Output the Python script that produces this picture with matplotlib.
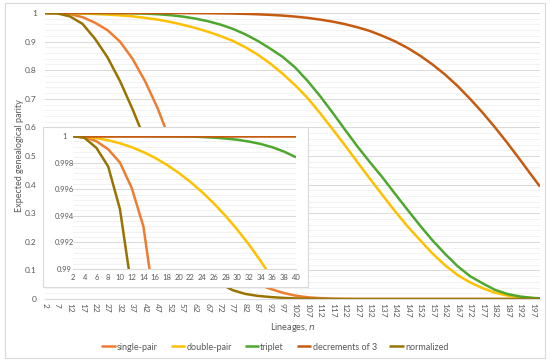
import numpy             as np
import matplotlib
matplotlib.use('Agg')
import matplotlib.pyplot as plt
from matplotlib.patches import Rectangle

plt.rcParams['font.family'] = ['Lato', 'DejaVu Sans']

# Lineages on the main chart (sampled every 5) and on the zoomed inset
n_main  = [2, 7, 12, 17, 22, 27, 32, 37, 42, 47, 52, 57, 62, 67, 72, 77, 82, 87, 92, 97,
           102, 107, 112, 117, 122, 127, 132, 137, 142, 147, 152, 157, 162, 167, 172, 177,
           182, 187, 192, 197, 200]
n_inset = [2, 4, 6, 8, 10, 12, 14, 16, 18, 20, 22, 24, 26, 28, 30, 32, 34, 36, 38, 40]

series_names = ['single-pair', 'double-pair', 'triplet', 'decrements of 3', 'normalized']

single_pair = [1.0, 0.9994, 0.996, 0.9855, 0.966, 0.94, 0.90, 0.84, 0.762, 0.668, 0.555,
               0.44, 0.335, 0.24, 0.165, 0.11, 0.075, 0.052, 0.036, 0.022, 0.012, 0.006,
               0.003, 0.0012, 0.0004, 0, 0, 0, 0, 0, 0, 0, 0, 0, 0, 0, 0, 0, 0, 0, 0]
double_pair = [1.0, 0.9998, 0.9992, 0.9981, 0.9966, 0.9945, 0.9918, 0.9885, 0.983, 0.977,
               0.969, 0.959, 0.948, 0.935, 0.920, 0.903, 0.881, 0.855, 0.824, 0.788, 0.748,
               0.703, 0.650, 0.594, 0.537, 0.478, 0.420, 0.363, 0.307, 0.254, 0.206, 0.159,
               0.118, 0.084, 0.058, 0.038, 0.022, 0.012, 0.006, 0.003, 0.002]
triplet     = [1.0, 1.0, 1.0, 1.0, 1.0, 1.0, 0.9996, 0.999, 0.9979, 0.9958, 0.9925, 0.9876,
               0.9807, 0.9716, 0.960, 0.945, 0.926, 0.903, 0.876, 0.847, 0.810, 0.763, 0.710,
               0.652, 0.592, 0.533, 0.478, 0.425, 0.368, 0.312, 0.257, 0.205, 0.158, 0.115,
               0.080, 0.055, 0.032, 0.0174, 0.0087, 0.0039, 0.0023]
decrements  = [1.0, 1.0, 1.0, 1.0, 1.0, 1.0, 1.0, 1.0, 1.0, 0.9999, 0.9998, 0.9997, 0.9995,
               0.9992, 0.9987, 0.998, 0.997, 0.9955, 0.9935, 0.991, 0.9875, 0.983, 0.977,
               0.970, 0.961, 0.950, 0.937, 0.920, 0.901, 0.878, 0.851, 0.820, 0.785, 0.745,
               0.700, 0.652, 0.600, 0.545, 0.487, 0.428, 0.393]
normalized  = [1.0, 0.9985, 0.988, 0.962, 0.91, 0.845, 0.762, 0.664, 0.557, 0.45, 0.35,
               0.25, 0.16, 0.095, 0.055, 0.031, 0.018, 0.011, 0.007, 0.004, 0.002, 0.001,
               0.0003, 0, 0, 0, 0, 0, 0, 0, 0, 0, 0, 0, 0, 0, 0, 0, 0, 0, 0]

# Zoomed values for n = 2..40
single_pair_inset = [1.0, 0.99993, 0.9996, 0.999, 0.998, 0.9961, 0.9932, 0.987, 0.981, 0.974,
                     0.965, 0.955, 0.944, 0.931, 0.918, 0.905, 0.89, 0.868, 0.84, 0.80]
double_pair_inset = [1.0, 0.99995, 0.99984, 0.99968, 0.99945, 0.99916, 0.99879, 0.99835,
                     0.99783, 0.99723, 0.99655, 0.99578, 0.99493, 0.99399, 0.99295, 0.99183,
                     0.99058, 0.98926, 0.98785, 0.9863]
triplet_inset     = [1.0, 1.0, 1.0, 1.0, 1.0, 1.0, 1.0, 0.99999, 0.99998, 0.999975, 0.99996,
                     0.999925, 0.99988, 0.99981, 0.99972, 0.99958, 0.9994, 0.99915, 0.99882,
                     0.9984]
decrements_inset  = [1.0] * 20
normalized_inset  = [1.0, 0.99985, 0.9991, 0.9977, 0.9945, 0.9885, 0.979, 0.968, 0.955, 0.94,
                     0.922, 0.90, 0.876, 0.85, 0.82, 0.79, 0.755, 0.72, 0.68, 0.64]

main_yticks   = [0, 0.1, 0.2, 0.3, 0.4, 0.5, 0.6, 0.7, 0.8, 0.9, 1]
main_ylabels  = ['0', '0.1', '0.2', '0.3', '0.4', '0.5', '0.6', '0.7', '0.8', '0.9', '1']
inset_yticks  = [0.99, 0.992, 0.994, 0.996, 0.998, 1]
inset_ylabels = ['0.99', '0.992', '0.994', '0.996', '0.998', '1']

colors     = ['#ED7D31', '#FFC000', '#4EA72E', '#C55A11', '#997300']
grid_major = '#D9D9D9'
grid_minor = '#F0F0F0'
text_color = '#595959'
linewidth  = 1.8
ticksize   = 6

W, H = 550, 364
fig = plt.figure(figsize=(W / 100, H / 100), dpi=100)
fig.patch.set_facecolor('white')

# Chart border
fig.patches.append(Rectangle((5 / W, 1 - 358 / H), 540 / W, 355 / H, transform=fig.transFigure,
                             facecolor='none', edgecolor=grid_major, linewidth=0.8, zorder=0))


def style_axes(ax):
    for side in ['left', 'right', 'top']:
        ax.spines[side].set_visible(False)
    ax.spines['bottom'].set_color(grid_major)
    ax.spines['bottom'].set_linewidth(0.8)
    ax.tick_params(axis='both', length=0, colors=text_color, labelsize=ticksize)
    ax.grid(axis='y', which='major', color=grid_major, linewidth=0.7, zorder=0)
    ax.grid(axis='y', which='minor', color=grid_minor, linewidth=0.6, zorder=0)
    ax.grid(axis='x', visible=False, which='both')
    ax.set_axisbelow(True)


# Main chart
ax = fig.add_axes([45 / W, 1 - 299 / H, 495 / W, 286 / H])
main_data = [single_pair, double_pair, triplet, decrements, normalized]
for values, name, color in zip(main_data, series_names, colors):
    ax.plot(n_main, values, color=color, linewidth=linewidth, label=name,
            solid_capstyle='butt', solid_joinstyle='round')
ax.set_xlim(2, 200)
ax.set_ylim(0, 1)
ax.set_yticks(main_yticks)
ax.set_yticklabels(main_ylabels)
ax.set_yticks(np.arange(0, 1.0001, 0.02), minor=True)
ax.set_xticks(list(range(2, 200, 5)))
ax.set_xticklabels([str(v) for v in range(2, 200, 5)], rotation=-90, fontsize=5.5)
style_axes(ax)
ax.tick_params(axis='y', which='minor', length=0)
ax.tick_params(axis='x', pad=3)
ax.tick_params(axis='y', pad=6)
ax.set_xlabel('Lineages, $\\mathit{n}$', fontsize=6.5, color=text_color, labelpad=2.5)
ax.set_ylabel('Expected genealogical parity', fontsize=6.5, color=text_color, labelpad=0.5)

# Inset frame
fig.patches.append(Rectangle((43 / W, 1 - 287 / H), 265 / W, 160 / H, transform=fig.transFigure,
                             facecolor='white', edgecolor=grid_major, linewidth=0.8, zorder=1))

# Inset chart
axi = fig.add_axes([73 / W, 1 - 269 / H, 223 / W, 133 / H], zorder=2)
axi.patch.set_alpha(0)
inset_data = [single_pair_inset, double_pair_inset, triplet_inset, decrements_inset, normalized_inset]
for values, color in zip(inset_data, colors):
    axi.plot(n_inset, values, color=color, linewidth=linewidth,
             solid_capstyle='butt', solid_joinstyle='round')
axi.set_xlim(2, 40)
axi.set_ylim(0.99, 1)
axi.set_xticks(n_inset)
axi.set_yticks(inset_yticks)
axi.set_yticklabels(inset_ylabels, ha='center')
axi.set_yticks(np.arange(0.99, 1.00001, 0.0004), minor=True)
style_axes(axi)
axi.tick_params(axis='both', labelsize=5.5)
axi.tick_params(axis='y', which='minor', length=0)
axi.tick_params(axis='x', pad=3.5)
axi.tick_params(axis='y', pad=6)

# Legend
handles = ax.get_lines()
fig.legend(handles, series_names, loc='center', bbox_to_anchor=(275 / W, 1 - 347 / H),
           ncol=5, frameon=False, fontsize=6.5, handlelength=1.6, handletextpad=0.15,
           columnspacing=1.4, labelcolor=text_color)

fig.savefig('out.png', dpi=100)
